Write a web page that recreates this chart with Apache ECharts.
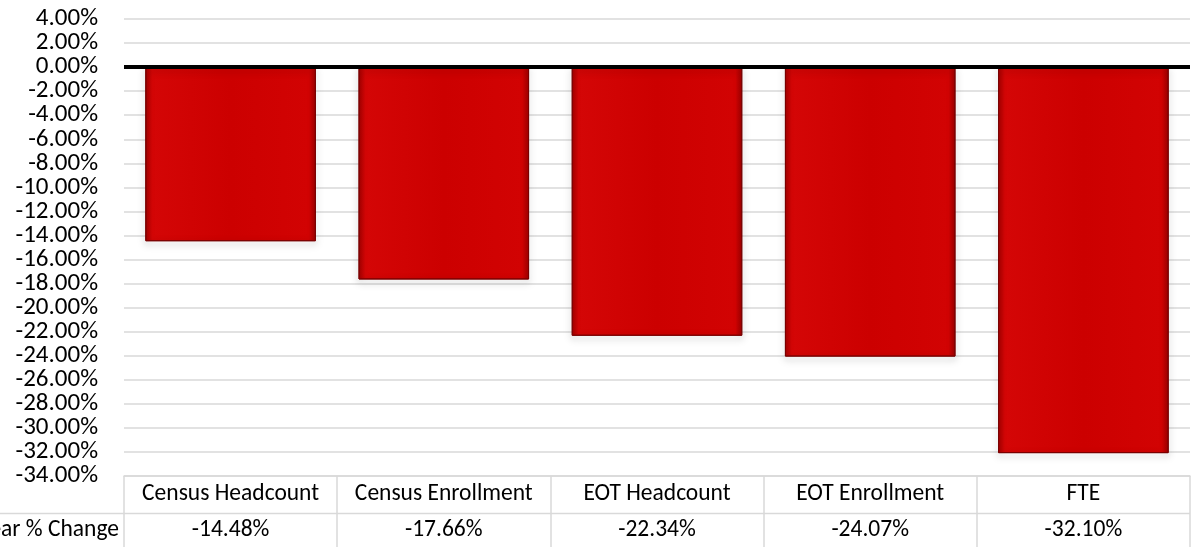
<!DOCTYPE html>
<html><head><meta charset="utf-8">
<script src="https://cdn.jsdelivr.net/npm/echarts@6/dist/echarts.min.js"></script>
<style>html,body{margin:0;padding:0;background:#fff}#c{width:1193px;height:548px}</style>
</head><body><div id="c"></div>
<script>
const categories = ['Census Headcount','Census Enrollment','EOT Headcount','EOT Enrollment','FTE'];
const values = [-14.48, -17.66, -22.34, -24.07, -32.10];
const rowLabel = 'Year % Change';
const yMin = -34, yMax = 4, yStep = 2;
const yTickLabels = ['-34.00%','-32.00%','-30.00%','-28.00%','-26.00%','-24.00%','-22.00%','-20.00%','-18.00%','-16.00%',
  '-14.00%','-12.00%','-10.00%','-8.00%','-6.00%','-4.00%','-2.00%','0.00%','2.00%','4.00%'];

const FONT = 'Carlito, Calibri, Lato, sans-serif';
const chart = echarts.init(document.getElementById('c'));
const gridL = 124, gridR = 3, gridT = 19, gridB = 71;
chart.setOption({
  animation: false,
  grid: {left: gridL, right: gridR, top: gridT, bottom: gridB, containLabel: false},
  xAxis: {
    type: 'category', data: categories,
    axisLine: {onZero: false, show: true, lineStyle: {color: '#d9d9d9', width: 1.5}},
    axisTick: {show: true, length: 71, alignWithLabel: false, lineStyle: {color: '#d9d9d9', width: 1.5}},
    axisLabel: {
      interval: 0, margin: 0,
      formatter: (v, i) => '{a|' + v + '}\n{b|' + values[i].toFixed(2) + '%}',
      rich: {
        a: {fontFamily: FONT, fontSize: 23.5, color: '#000', lineHeight: 37, height: 37},
        b: {fontFamily: FONT, fontSize: 23.5, color: '#000', lineHeight: 35, height: 35}
      }
    }
  },
  yAxis: [{
    type: 'value', min: yMin, max: yMax, interval: yStep,
    axisLine: {show: false}, axisTick: {show: false}, axisLabel: {show: false},
    splitLine: {lineStyle: {color: '#d9d9d9', width: 1.5}}
  }, {
    type: 'category', data: yTickLabels, boundaryGap: false, position: 'left',
    axisLine: {show: false}, axisTick: {show: false}, splitLine: {show: false},
    axisLabel: {interval: 0, margin: 26, fontFamily: FONT, fontSize: 25, color: '#000'}
  }],
  series: [{
    type: 'bar', data: values, barCategoryGap: '20%', yAxisIndex: 0,
    itemStyle: {
      color: {type: 'linear', x: 0, y: 0, x2: 1, y2: 0, colorStops: [
        {offset: 0, color: '#a80000'}, {offset: 0.04, color: '#d40606'},
        {offset: 0.5, color: '#cc0000'}, {offset: 0.96, color: '#d20303'}, {offset: 1, color: '#a00000'}]},
      borderColor: '#7a0000', borderWidth: 1,
      shadowColor: 'rgba(0,0,0,0.35)', shadowBlur: 7, shadowOffsetY: 3
    },
    markLine: {silent: true, symbol: 'none', label: {show: false},
      lineStyle: {color: '#000', width: 4, type: 'solid'},
      data: [{yAxis: 0}]}
  }]
});
const yRow = chart.convertToPixel({yAxisIndex: 0}, yMin) + 37.5;
chart.setOption({graphic: [
  {type: 'line', shape: {x1: 0, y1: yRow, x2: 1193 - gridR, y2: yRow}, style: {stroke: '#d9d9d9', lineWidth: 1.5}},
  {type: 'text', x: gridL - 5, y: yRow + 17, style: {text: rowLabel, fontFamily: FONT, fontSize: 23.5, fill: '#000', align: 'right', verticalAlign: 'middle'}}
]});
</script></body></html>
